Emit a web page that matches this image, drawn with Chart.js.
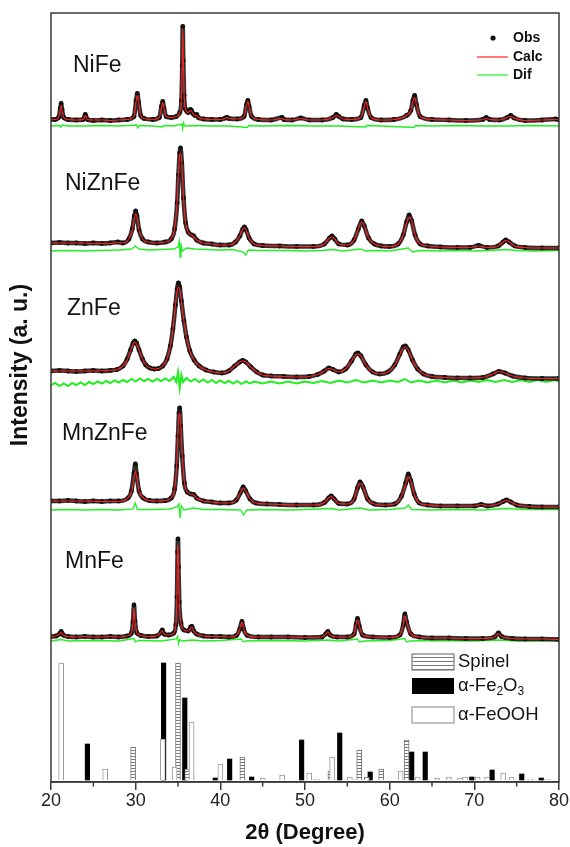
<!DOCTYPE html>
<html><head><meta charset="utf-8">
<script src="https://cdn.jsdelivr.net/npm/chart.js@4.4.1/dist/chart.umd.min.js"></script>
<style>html,body{margin:0;padding:0;background:#fff;}#wrap{width:570px;height:847px;}</style>
</head><body><div id="wrap"><canvas id="c" width="570" height="847"></canvas></div>
<script>
// ---------- DATA (2θ, Obs, Calc) intensities in arbitrary units ----------
const sampleNames = ['NiFe', 'NiZnFe', 'ZnFe', 'MnZnFe', 'MnFe'];
const xTicks = [20, 30, 40, 50, 60, 70, 80];
const xMinorTicks = [25, 35, 45, 55, 65, 75];

const niFe = [[20,1,1],[20.5,1,1],[20.9,3,3],[21.1,12,11],[21.2,17,15],[21.3,11,10],[21.5,3,3],[22,1,1],[23,0.5,0.5],[23.8,1,1],[24.05,6,5],[24.3,1,1],[25,0,0.5],[26,0.5,0.5],[27,0,0],[28,0.5,0.5],[29,1,1],[29.8,4,4],[30.05,20,19],[30.2,27,25],[30.35,18,18],[30.6,5,5],[31,2,2],[32,1,1],[32.8,3,3],[33.05,14,13],[33.2,19,18],[33.35,12,12],[33.6,4,4],[34.2,3,3],[34.8,4,4],[35.2,8,8],[35.4,20,22],[35.5,55,58],[35.56,94,92],[35.62,60,62],[35.72,25,26],[35.9,11,11],[36.2,8,8],[36.45,11,10],[36.6,10,9],[36.75,7,7],[37.0,5,5],[37.2,6,5],[37.4,3,3],[38,1.5,1.5],[39,1,1],[40,1,1],[40.6,2.5,2],[40.8,3,3],[41.0,2,2],[42,1.5,1.5],[42.8,4,4],[43.1,16,15],[43.25,20,19],[43.4,14,14],[43.7,4,4],[44.5,1,1],[46,0.5,0.5],[47.3,3,2],[47.5,1,1],[48.5,0.5,0.5],[49.5,2.5,2],[50.5,0.5,0.5],[52,0.5,0.5],[53.3,3,3],[53.7,6,5],[54.0,4,4],[54.5,1.5,1.5],[55.5,1,1],[56.6,3,3],[57.0,15,14],[57.2,20,19],[57.4,12,12],[57.8,3,3],[59,0.5,0.5],[60.5,1,1],[62.0,5,5],[62.5,10,10],[62.75,20,19],[62.95,25,23],[63.15,16,16],[63.6,4,4],[65,1,1],[67,0.5,0.5],[69,0,0],[71.0,1,1],[71.4,3,2],[71.8,1,1],[73,0.5,0.5],[73.9,3,3],[74.3,5,4],[74.7,2.5,2.5],[76,0,0],[78,0.5,0.5],[79.6,1.5,1],[80,0.5,0.5]];

const niZnFe = [[20,0,0],[21,0.5,0],[22,0,0],[23,0,0],[24,-0.5,0],[25,0,-0.5],[26,-0.5,-0.5],[27,0,-0.5],[27.9,1,0.5],[28.5,0,0],[29.2,4,4],[29.6,14,13],[29.85,27,25],[30.0,32,29],[30.15,27,26],[30.4,13,13],[30.8,4,4],[31.5,1,1],[32.5,0,0],[33.5,1,1],[34.2,4,4],[34.6,14,15],[34.9,40,42],[35.05,68,70],[35.2,90,88],[35.3,95,90],[35.45,80,80],[35.65,45,45],[35.9,20,20],[36.2,11,11],[36.6,8,8],[36.85,7,6],[37.2,3,3],[38,0,0],[39,-1,-1],[40,-2,-2],[41,-2,-2],[41.8,1,1],[42.3,7,7],[42.65,14,14],[42.85,16,15],[43.05,13,13],[43.4,5,5],[44,-1,-1],[45,-2.5,-2.5],[47,-3,-3],[49,-3.5,-3.5],[51,-3.5,-3.5],[52.3,-1,-1],[52.9,5,5],[53.2,7,6],[53.5,4,4],[54.0,-1,-1],[55,-2,-2],[55.8,3,3],[56.3,14,14],[56.7,22,21],[57.0,17,17],[57.5,5,5],[58.2,-1,-1],[59,-3,-3],[60,-3.5,-3.5],[61,-1,-1],[61.6,8,8],[62.0,21,20],[62.3,28,26],[62.6,22,22],[63.0,8,8],[63.6,-1,-1],[64.5,-3,-3],[66,-4,-4],[68,-4.5,-4.5],[69.5,-4.5,-4.5],[70.5,-2.5,-3],[71.5,-4.5,-4.5],[72.8,-3,-3],[73.4,1,1],[73.7,3,2.5],[74.1,1,1],[74.8,-3,-3],[76,-4.5,-4.5],[78,-5,-5],[80,-5,-5]];

const znFe = [[20,0,0],[21,0.5,0],[22,0,0],[23,-0.5,0],[24,0,0],[25,0.5,0],[26,0,0.3],[27,0.5,0.7],[27.8,1.5,1.5],[28.5,5,5],[29.0,12,11],[29.4,21,20],[29.7,28,27],[29.9,30,29],[30.1,28,27],[30.4,21,21],[30.8,12,12],[31.2,6,6],[31.7,3,3],[32.2,2,2],[32.7,2.5,2.5],[33.2,5,5],[33.7,12,12],[34.1,25,25],[34.4,42,42],[34.7,66,66],[34.9,82,80],[35.05,88,84],[35.2,84,82],[35.4,70,70],[35.7,50,50],[36.0,34,34],[36.4,20,20],[36.9,11,11],[37.5,5,5],[38.3,1,1],[39.2,-1,-1],[40.2,-2,-2],[41.0,0,0],[41.7,5,5],[42.3,9,9],[42.65,10.5,10],[43.0,9,9],[43.6,4,4],[44.3,-1,-1],[45,-4,-4],[46,-5,-5],[47.5,-5.5,-5.5],[49,-6,-6],[50.5,-5.5,-5.5],[51.5,-3.5,-3.5],[52.3,0,0],[52.8,3,2.5],[53.3,1.5,1.5],[54,-1,-1],[54.8,2,2],[55.5,10,10],[56.0,17,16],[56.25,18,17],[56.6,15,15],[57.2,6,6],[58,-1,-1],[58.8,-3,-3],[59.8,-1,-1],[60.6,6,6],[61.2,17,16],[61.6,24,23],[61.85,25,24],[62.2,21,21],[62.7,11,11],[63.3,2,2],[64,-3,-3],[65,-5.5,-5.5],[66.5,-6.5,-6.5],[68,-7,-7],[69.5,-7,-7],[71,-6.5,-6.5],[72.2,-3,-3],[72.9,-0.5,-0.5],[73.6,-2,-2],[74.5,-5,-5],[76,-7,-7],[78,-7.5,-7.5],[80,-7.5,-7.5]];

const mnZnFe = [[20,0,0],[21,0,0],[22,0.5,0],[23,0,0],[24,-0.5,0],[25,0,-0.3],[26,-0.5,-0.5],[27,0,-0.5],[28,0,-0.3],[29.1,3,3],[29.5,10,9],[29.8,28,22],[29.96,37,30],[30.1,27,25],[30.4,10,10],[30.9,3,3],[31.6,0.5,0.5],[32.5,0,0],[33.5,0.5,0.5],[34.2,3,3],[34.6,12,12],[34.85,35,36],[35.0,65,68],[35.12,88,86],[35.2,93,88],[35.32,75,76],[35.5,45,46],[35.75,18,19],[36.1,9,9],[36.5,7,7],[36.85,6.5,6],[37.2,3,3],[38,0,0],[39,-1,-1],[40,-2,-2],[41,-2,-2],[41.9,1,1],[42.35,8,8],[42.7,14,13],[43.0,10,10],[43.5,2,2],[44.2,-2,-2],[45.5,-3,-3],[47,-3.5,-3.5],[49,-4,-4],[51,-4,-4],[52.3,-1.5,-1.5],[52.8,3,3],[53.1,5,4.5],[53.45,2,2],[54,-2.5,-2.5],[55,-3,-3],[55.8,2,2],[56.2,13,13],[56.5,19,18],[56.85,14,14],[57.4,2,2],[58.2,-3,-3],[59.5,-4,-4],[60.6,-3,-3],[61.4,5,5],[61.9,18,17],[62.2,27,24],[62.5,20,20],[62.9,7,7],[63.5,-2,-2],[64.5,-4,-4],[66,-5,-5],[68,-5,-5],[70,-5,-5],[70.8,-3.5,-3.5],[71.6,-5,-5],[72.8,-3,-3],[73.4,-0.5,-0.5],[73.8,1,0.5],[74.3,-1,-1],[75,-4,-4],[76.5,-5.5,-5.5],[78,-6,-6],[80,-6,-6]];

const mnFe = [[20,0.5,0.5],[20.6,1,1],[21.0,3,3],[21.2,5.5,4.5],[21.45,2,2],[22,0.5,0.5],[23,0,0],[24,0.5,0.5],[25,0,0],[26,0,0],[27,0.5,0.5],[28,0,0],[29,1,1],[29.5,4,4],[29.68,15,14],[29.8,32,29],[29.92,16,16],[30.15,4,4],[30.6,1.5,1.5],[31.5,0.5,0.5],[32.5,1,1],[33.0,5,5],[33.15,7,6],[33.35,3,3],[33.9,2,2],[34.5,4,4],[34.75,12,13],[34.88,40,45],[34.95,85,88],[35.0,98,92],[35.06,70,72],[35.15,35,35],[35.35,14,14],[35.7,7,7],[36.2,6,6],[36.5,10,9],[36.65,10.5,10],[36.85,6,6],[37.2,3,3],[38,1,1],[39,0.5,0.5],[40,0.5,0.5],[41,0,0],[41.9,1.5,1.5],[42.3,8,8],[42.55,15.5,15],[42.75,8,8],[43.2,1.5,1.5],[44.5,0,0],[46,0,0],[48,0,0],[50,-0.5,-0.5],[52,0,0],[52.45,3,3],[52.7,5.5,5],[52.95,2,2],[53.8,0,0],[55,0,0],[55.8,3,3],[56.05,13,13],[56.2,18.5,17],[56.4,11,11],[56.8,2,2],[58,0,0],[60,-0.5,-0.5],[61.2,2,2],[61.6,12,12],[61.8,23,21],[62.0,15,15],[62.5,3,3],[63.5,0,0],[65,-1,-1],[67,-1,-1],[69,-1.5,-1.5],[71,-1.5,-1.5],[72.4,0,0],[72.85,4,3.5],[73.2,0.5,0.5],[74.5,-1.5,-1.5],[76,-2,-2],[78,-2,-2],[80,-2.5,-2.5]];

// Difference curves (2θ, Dif)
const niFeDif = [[20,0],[21,0.5],[21.15,-1.5],[21.3,1],[22,0],[24,0],[26,0.5],[28,0],[30.1,1],[30.25,-2],[30.4,0.5],[32,0],[33.15,-1],[33.3,0.5],[34.5,0],[35.45,2],[35.55,-3],[35.65,3],[35.8,0],[37,0.5],[39,0],[41,0],[43.2,-1.5],[43.35,0.5],[45,0],[48,0.5],[51,0],[54,0],[57.15,-1],[57.3,0.5],[59,0],[62.9,-1.5],[63.05,0.5],[65,0],[68,0.5],[71,0],[74,0],[77,0.5],[80,0]];
const niZnFeDif = [[20,0],[22,0.5],[24,0],[26,0.5],[28,1],[29.5,2],[29.95,5],[30.4,2],[31.5,1],[33,1.5],[34.5,2],[35.0,4],[35.15,10],[35.25,-6],[35.35,8],[35.5,0],[36,3],[37,2],[38.5,1.5],[40,1],[41.5,1.5],[42.7,-1],[43,-4],[43.3,1],[44.5,0.5],[46,0.5],[48,0.5],[50,0],[52,0.5],[53.2,1.5],[54.5,0],[56.5,2],[57.2,0],[58.5,0.5],[60,0],[62.2,3],[62.7,-1],[63.5,0.5],[66,0],[68,0.5],[70,0],[72,0.5],[73.7,1.5],[75,0.5],[77,0],[80,0.5]];
const znFeDif = [[20,0],[20.5,2],[21,-1],[21.5,1.5],[22,-1],[22.5,2],[23,0],[23.5,2.5],[24,0],[24.5,3],[25,1],[25.5,3.5],[26,1.5],[26.5,4],[27,2],[27.5,4.5],[28,2.5],[28.5,5],[29,3],[29.5,6],[30,3.5],[30.5,6.5],[31,4],[31.5,6],[32,3.5],[32.5,6],[33,4],[33.5,6.5],[34,4],[34.5,8],[34.8,3],[35,13],[35.2,-3],[35.4,10],[35.6,3],[36,7],[36.5,3.5],[37,6],[37.5,3],[38,5.5],[38.5,2.5],[39,5],[39.5,2],[40,4.5],[40.5,2],[41,4],[41.5,1.5],[42,4],[42.5,1],[43,3.5],[43.5,1.5],[44,3.5],[45,1.5],[46,3.5],[47,1.5],[48,3.5],[49,1.5],[50,3.5],[51,2],[52,4],[53,2],[54,4.5],[55,2.5],[56,5],[57,2.5],[58,4.5],[59,2.5],[60,4.5],[61,3],[61.8,6],[62.5,2.5],[63.5,4.5],[64.5,2.5],[65.5,4.5],[66.5,2.5],[67.5,4.5],[68.5,2.5],[69.5,4.5],[70.5,3],[71.5,5],[72.5,3],[73.5,5],[74.5,3],[75.5,5],[76.5,3],[77.5,5],[78.5,3],[79.5,5],[80,3.5]];
const mnZnFeDif = [[20,0],[22,0.5],[24,0],[26,0.5],[28,0],[29.7,1],[29.95,7],[30.2,0.5],[32,0.5],[34,1],[34.9,3],[35.1,6],[35.25,-8],[35.4,4],[35.7,0],[36.8,2],[38,0.5],[40,0.5],[42.4,0],[42.75,-5],[43.1,0],[45,0.5],[48,0],[50,0.5],[53.1,1.5],[54,0],[56.5,2],[57.5,0],[60,0.5],[61.9,2],[62.2,5],[62.6,0.5],[65,0],[68,0.5],[71,0],[73.8,1.5],[76,0.5],[80,0.5]];
const mnFeDif = [[20,0],[21.2,1.5],[22,0],[25,0.5],[28,0],[29.8,2.5],[30,-1],[30.3,0.5],[33,0],[34.8,2],[34.95,4.5],[35.05,-3],[35.2,1.5],[35.5,0],[36.7,1],[38,0],[40,0.5],[42.5,2],[42.7,-1],[43,0],[46,0.5],[50,0],[52.7,1],[54,0],[56.2,2],[56.4,-1],[57,0],[60,0.5],[61.8,2.5],[62,-1],[62.4,0],[65,0.5],[70,0],[72.85,1],[75,0],[80,0.5]];

// Reference patterns (2θ, relative intensity)
const spinelLines = [[29.7,33],[35.0,117],[36.1,11],[36.6,7],[42.6,23],[53.0,9],[56.4,30],[57.3,3],[59.0,11],[62.0,40]];
const hematiteLines = [[24.3,36],[33.3,117],[35.8,82],[39.4,2],[41.1,21],[43.7,3],[49.6,40],[54.1,47],[57.7,8],[62.6,28],[64.2,28],[69.7,3],[72.1,10],[75.6,6],[77.9,2]];
const goethiteLines = [[21.2,117],[26.4,11],[33.2,41],[34.6,13],[36.6,58],[40.0,16],[45.0,2],[47.3,5],[50.5,7],[51.4,1],[53.2,23],[55.3,3],[61.3,9],[63.3,3],[65.6,2],[67.0,3],[68.3,2],[68.9,3],[70.4,3],[71.5,3],[73.4,7],[74.4,3],[76.6,1],[78.6,1]];

// ---------- LAYOUT / STYLE ----------
const FONT = '"Liberation Sans", Arial, Helvetica, sans-serif';
const AXIS = '#3a3a3a';
const panels = [
  {name: sampleNames[0], rows: niFe,   dif: niFeDif,   base: 661.5, difBase: 656, difW: 1.3, lx: 73, ly: 66},
  {name: sampleNames[1], rows: niZnFe, dif: niZnFeDif, base: 539,   difBase: 531, difW: 1.3, lx: 65, ly: 184},
  {name: sampleNames[2], rows: znFe,   dif: znFeDif,   base: 411,   difBase: 397, difW: 2,   lx: 67, ly: 309},
  {name: sampleNames[3], rows: mnZnFe, dif: mnZnFeDif, base: 281,   difBase: 272, difW: 1.3, lx: 62, ly: 434},
  {name: sampleNames[4], rows: mnFe,   dif: mnFeDif,   base: 145,   difBase: 141, difW: 1.3, lx: 65, ly: 562}
];
const BAR_BASE = 2;

const ctx0 = document.getElementById('c').getContext('2d');
function hatchPattern(period){
  const c = document.createElement('canvas'); c.width = 4; c.height = period;
  const g = c.getContext('2d');
  g.fillStyle = '#fff'; g.fillRect(0, 0, 4, period);
  g.fillStyle = '#7a7a7a'; g.fillRect(0, 0, 4, 1);
  return ctx0.createPattern(c, 'repeat');
}
const hatch = hatchPattern(3);

const datasets = [];
panels.forEach(p => {
  datasets.push({type:'line', label: p.name + ' Calc', order: 0,
    data: p.rows.map(r => ({x: r[0], y: p.base + r[2]})),
    borderColor: '#ff2020', borderWidth: 1.1, pointRadius: 0, cubicInterpolationMode: 'monotone'});
  datasets.push({type:'line', label: p.name + ' Obs', order: 1,
    data: p.rows.map(r => ({x: r[0], y: p.base + r[1]})),
    borderColor: 'rgba(25,25,25,0.9)', borderWidth: 4.5, pointRadius: 2.4, pointBorderWidth: 0,
    pointBackgroundColor: '#111', cubicInterpolationMode: 'monotone'});
  datasets.push({type:'line', label: p.name + ' Dif', order: 2,
    data: p.dif.map(r => ({x: r[0], y: p.difBase + r[1]})),
    borderColor: '#22ee22', borderWidth: p.difW, pointRadius: 0, tension: 0});
});
const barCommon = {type:'bar', grouped: false, barThickness: 5, order: 3, borderSkipped: 'start'};
datasets.push(Object.assign({}, barCommon, {label:'α-FeOOH',
  data: goethiteLines.map(r => ({x: r[0], y: [BAR_BASE, BAR_BASE + r[1]]})),
  backgroundColor: '#ffffff', borderColor: '#9a9a9a', borderWidth: 1}));
datasets.push(Object.assign({}, barCommon, {label:'Spinel',
  data: spinelLines.map(r => ({x: r[0], y: [BAR_BASE, BAR_BASE + r[1]]})),
  backgroundColor: hatch, borderColor: '#7a7a7a', borderWidth: 1}));
datasets.push(Object.assign({}, barCommon, {label:'α-Fe2O3', barThickness: 4.5,
  data: hematiteLines.map(r => ({x: r[0], y: [BAR_BASE, BAR_BASE + r[1]]})),
  backgroundColor: '#000000', borderWidth: 0}));

const overlay = {
  id: 'overlay',
  afterDraw(chart){
    const {ctx, chartArea: a, scales: {x}} = chart;
    ctx.save();
    ctx.strokeStyle = AXIS; ctx.lineWidth = 1.5;
    ctx.strokeRect(a.left, a.top, a.right - a.left, a.bottom - a.top);
    xMinorTicks.forEach(v => {
      const px = x.getPixelForValue(v);
      ctx.beginPath(); ctx.moveTo(px, a.bottom); ctx.lineTo(px, a.bottom + 4.5); ctx.stroke();
    });
    // sample names
    ctx.fillStyle = '#141414'; ctx.textAlign = 'left'; ctx.textBaseline = 'middle';
    ctx.font = '23px ' + FONT;
    panels.forEach(p => ctx.fillText(p.name, p.lx, p.ly));
    // y title
    ctx.save();
    ctx.translate(21, 365); ctx.rotate(-Math.PI / 2);
    ctx.textAlign = 'center'; ctx.font = 'bold 23px ' + FONT; ctx.fillStyle = '#111';
    ctx.fillText('Intensity (a. u.)', 0, 0);
    ctx.restore();
    // top legend
    ctx.font = 'bold 14px ' + FONT; ctx.fillStyle = '#111';
    ctx.beginPath(); ctx.arc(493, 38, 2.6, 0, Math.PI * 2); ctx.fill();
    ctx.fillText('Obs', 513, 38);
    ctx.strokeStyle = '#ff2020'; ctx.lineWidth = 1.2;
    ctx.beginPath(); ctx.moveTo(477, 57); ctx.lineTo(508, 57); ctx.stroke();
    ctx.fillText('Calc', 513, 57);
    ctx.strokeStyle = '#22ee22';
    ctx.beginPath(); ctx.moveTo(477, 75); ctx.lineTo(508, 75); ctx.stroke();
    ctx.fillText('Dif', 513, 75);
    // bottom legend
    const bx = 412, bw = 42, bh = 16;
    ctx.fillStyle = '#fff'; ctx.fillRect(bx, 654, bw, bh);
    ctx.fillStyle = '#7a7a7a';
    for (let yy = 657; yy < 670; yy += 4) ctx.fillRect(bx, yy, bw, 1);
    ctx.strokeStyle = '#7a7a7a'; ctx.lineWidth = 1.2; ctx.strokeRect(bx, 654, bw, bh);
    ctx.fillStyle = '#000'; ctx.fillRect(bx, 678, bw, bh);
    ctx.strokeStyle = '#999'; ctx.strokeRect(bx, 707, bw, bh);
    ctx.fillStyle = '#141414'; ctx.font = '18.5px ' + FONT;
    ctx.fillText('Spinel', 458, 662);
    let tx = 458;
    ctx.fillText('α-Fe', tx, 686); tx += ctx.measureText('α-Fe').width;
    ctx.font = '12px ' + FONT; ctx.fillText('2', tx, 692); tx += ctx.measureText('2').width;
    ctx.font = '18.5px ' + FONT; ctx.fillText('O', tx, 686); tx += ctx.measureText('O').width;
    ctx.font = '12px ' + FONT; ctx.fillText('3', tx, 692);
    ctx.font = '18.5px ' + FONT; ctx.fillText('α-FeOOH', 458, 715);
    ctx.restore();
  }
};

new Chart(document.getElementById('c'), {
  type: 'line',
  data: {datasets},
  options: {
    responsive: false, animation: false, events: [],
    layout: {padding: {left: 51, right: 11, top: 13, bottom: 0}},
    plugins: {legend: {display: false}, tooltip: {enabled: false}},
    scales: {
      x: {type: 'linear', min: 20, max: 80, offset: false,
        afterBuildTicks: s => { s.ticks = xTicks.map(v => ({value: v})); },
        grid: {display: true, drawOnChartArea: false, drawTicks: true, tickLength: 8, color: AXIS, lineWidth: 1.5, offset: false},
        border: {display: true, color: AXIS, width: 1.5},
        ticks: {font: {size: 18, family: FONT}, color: '#222', padding: 0, maxRotation: 0, autoSkip: false},
        title: {display: true, text: '2θ (Degree)', font: {size: 22, weight: 'bold', family: FONT}, color: '#111', padding: {top: 8, bottom: 1}}
      },
      y: {type: 'linear', display: false, min: 0, max: 769}
    }
  },
  plugins: [overlay]
});
</script></body></html>
